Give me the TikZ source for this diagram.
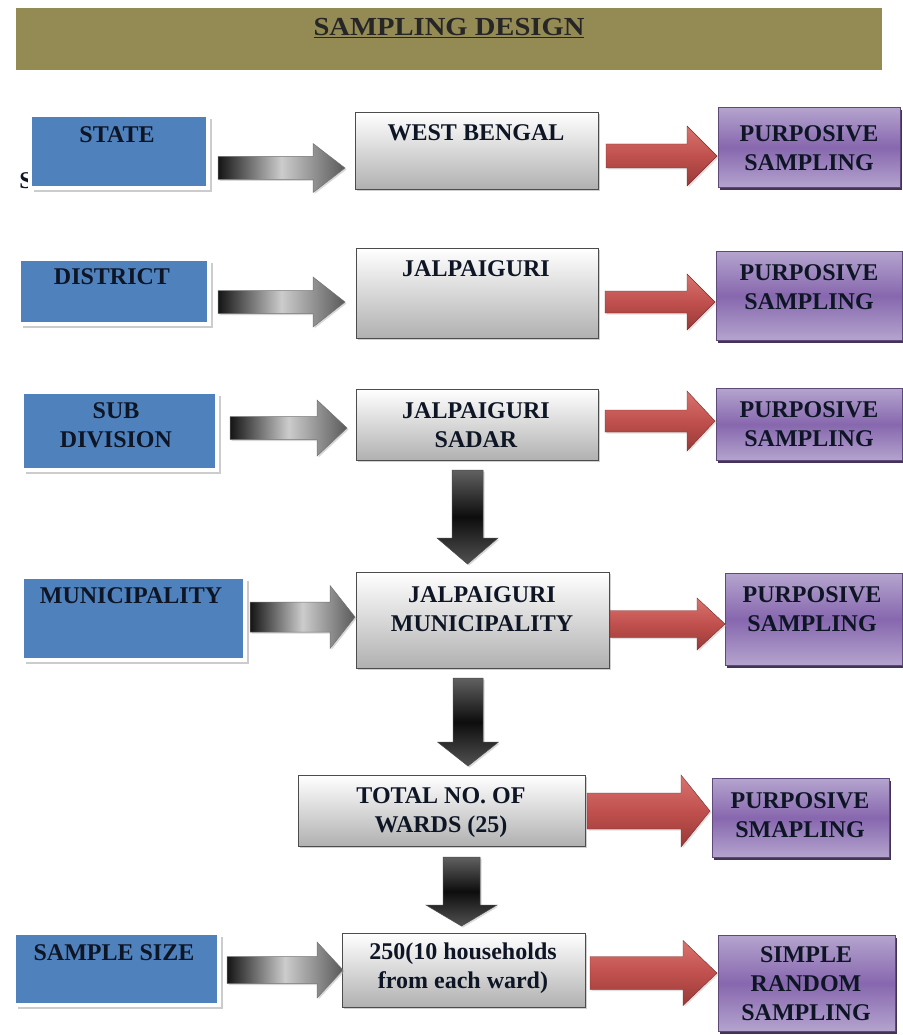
\documentclass[tikz,border=0pt]{standalone}
\usepackage{fontspec}
\setmainfont{Liberation Serif}
\usetikzlibrary{shadows}
\definecolor{titlebg}{HTML}{948A54}
\definecolor{boxblue}{HTML}{4F81BD}
\definecolor{txt}{HTML}{0E1626}
\definecolor{purpL}{HTML}{B4A4CE}
\definecolor{purpD}{HTML}{8767AE}
\definecolor{purpE}{HTML}{5F497A}
\definecolor{redL}{HTML}{D9736F}
\definecolor{redM}{HTML}{C0504D}
\definecolor{redD}{HTML}{983A37}
\newcommand\blockR[7]{%
  \path[#1] (#2,#5-#6) -- (#3,#5-#6) -- (#3,#5-#7) -- (#4,#5) -- (#3,#5+#7) -- (#3,#5+#6) -- (#2,#5+#6) -- cycle;}
\newcommand\blockD[7]{%
  \path[#1] (#2-#6,#3) -- (#2-#6,#4) -- (#2-#7,#4) -- (#2,#5) -- (#2+#7,#4) -- (#2+#6,#4) -- (#2+#6,#3) -- cycle;}
\tikzset{
  lbl/.style={font=\fontsize{24}{29}\selectfont\bfseries, text=txt, align=center, inner sep=0pt},
  boxbase/.style={anchor=north west, inner sep=0pt},
  bluebox/.style={boxbase, fill=boxblue, draw=white, line width=4pt,
    drop shadow={shadow xshift=3.5pt, shadow yshift=-4pt, fill=gray!40, opacity=1}},
  graybox/.style={boxbase, top color=white, bottom color=gray!62, draw=gray!60!black, line width=0.8pt,
    drop shadow={shadow xshift=2pt, shadow yshift=-2pt, fill=gray!60, opacity=.6}},
  purpbox/.style={boxbase, top color=purpL, bottom color=purpL, middle color=purpD, draw=purpE, line width=0.8pt,
    drop shadow={shadow xshift=2pt, shadow yshift=-2.5pt, fill=purpE!70!black, opacity=1}},
  grayarr/.style={left color=black!92, right color=black!65, middle color=gray!40, draw=black!55, line width=0.5pt,
    drop shadow={shadow xshift=1.5pt, shadow yshift=-1.5pt, fill=gray!60, opacity=.5}},
  redarr/.style={top color=redL, bottom color=redD, middle color=redM, draw=redD!80!black, line width=0.4pt,
    drop shadow={shadow xshift=1.5pt, shadow yshift=-1.5pt, fill=gray!60, opacity=.4}},
  downarr/.style={top color=black!62, bottom color=black!68, middle color=black!95, draw=black!70, line width=0.5pt,
    drop shadow={shadow xshift=1.5pt, shadow yshift=-1.5pt, fill=gray!60, opacity=.5}},
}
\begin{document}
\begin{tikzpicture}[x=1pt,y=-1pt]
\useasboundingbox[fill=white] (0,0) rectangle (902,1035);
% title
\node[boxbase, fill=titlebg, minimum width=866pt, minimum height=62pt] (title) at (16,8) {};
\node[font=\fontsize{26}{30}\selectfont\bfseries, text=black!85, inner sep=0pt] (ttitle) at (449,28)
  {\scalebox{1.1}[1]{\underline{SAMPLING DESIGN}}};
% stray glyph
\node[lbl] (stray) at (26,181) {S};
% row 1
\node[bluebox, minimum width=178pt, minimum height=73pt] (state) at (28,113) {};
\node[lbl] (tstate) at (117,135) {STATE};
\node[graybox, minimum width=243pt, minimum height=77pt] (wb) at (355,112) {};
\node[lbl] (twb) at (476,133) {WEST BENGAL};
\node[purpbox, minimum width=182pt, minimum height=80pt] (p1) at (718,107) {};
\node[lbl] (tp1) at (809,148) {PURPOSIVE\\SAMPLING};
\blockR{grayarr}{218}{313}{345}{168}{11.5}{24.5}
\blockR{redarr}{606}{687}{717}{156}{12}{30}
% row 2
\node[bluebox, minimum width=190pt, minimum height=65pt] (district) at (17,257) {};
\node[lbl] (tdistrict) at (112,277) {DISTRICT};
\node[graybox, minimum width=242pt, minimum height=90pt] (jal) at (356,248) {};
\node[lbl] (tjal) at (476,269) {JALPAIGURI};
\node[purpbox, minimum width=186pt, minimum height=89pt] (p2) at (716,251) {};
\node[lbl] (tp2) at (809,287) {PURPOSIVE\\SAMPLING};
\blockR{grayarr}{218}{313}{345}{302}{11.5}{25}
\blockR{redarr}{605}{687}{715}{302}{11}{28}
% row 3
\node[bluebox, minimum width=195pt, minimum height=78pt] (subdiv) at (20,390) {};
\node[lbl] (tsubdiv) at (116,425) {SUB\\DIVISION};
\node[graybox, minimum width=242pt, minimum height=71pt] (sadar) at (356,389) {};
\node[lbl] (tsadar) at (476,425) {JALPAIGURI\\SADAR};
\node[purpbox, minimum width=186pt, minimum height=72pt] (p3) at (716,388) {};
\node[lbl] (tp3) at (809,424) {PURPOSIVE\\SAMPLING};
\blockR{grayarr}{230}{317}{347}{428}{11.5}{28}
\blockR{redarr}{605}{687}{715}{421}{11}{30}
\blockD{downarr}{467.5}{470}{538}{564}{15.5}{30.5}
% row 4
\node[bluebox, minimum width=223pt, minimum height=83pt] (muni) at (20,575) {};
\node[lbl] (tmuni) at (131,596) {MUNICIPALITY};
\node[graybox, minimum width=253pt, minimum height=96pt] (jm) at (356,572) {};
\node[lbl] (tjm) at (482,609) {JALPAIGURI\\MUNICIPALITY};
\node[purpbox, minimum width=177pt, minimum height=92pt] (p4) at (725,573) {};
\node[lbl] (tp4) at (812,609) {PURPOSIVE\\SAMPLING};
\blockR{grayarr}{250}{330}{355}{617}{15}{31.5}
\blockR{redarr}{610}{697}{725}{624}{13.5}{26}
\blockD{downarr}{468}{678}{742}{766}{15}{30.5}
% row 5
\node[graybox, minimum width=287pt, minimum height=71pt] (wards) at (298,775) {};
\node[lbl] (twards) at (441,813) {TOTAL NO. OF\\WARDS (25)};
\node[purpbox, minimum width=177pt, minimum height=79pt] (p5) at (712,778) {};
\node[lbl] (tp5) at (800,815) {PURPOSIVE\\SMAPLING};
\blockR{redarr}{587}{681}{710}{811}{18}{36}
\blockD{downarr}{461.5}{857}{905}{926}{18.5}{35.5}
% row 6
\node[bluebox, minimum width=205pt, minimum height=72pt] (ssize) at (12,931) {};
\node[lbl] (tssize) at (114,953) {SAMPLE SIZE};
\node[graybox, minimum width=243pt, minimum height=74pt] (hh) at (342,933) {};
\node[lbl] (thh) at (463,968) {250(10 households\\from each ward)};
\node[purpbox, minimum width=177pt, minimum height=96pt] (p6) at (718,935) {};
\node[lbl] (tp6) at (806,984) {SIMPLE\\RANDOM\\SAMPLING};
\blockR{grayarr}{227}{317}{343}{970}{13.5}{28}
\blockR{redarr}{590}{683}{717}{973}{16.5}{32.5}
\end{tikzpicture}
\end{document}
